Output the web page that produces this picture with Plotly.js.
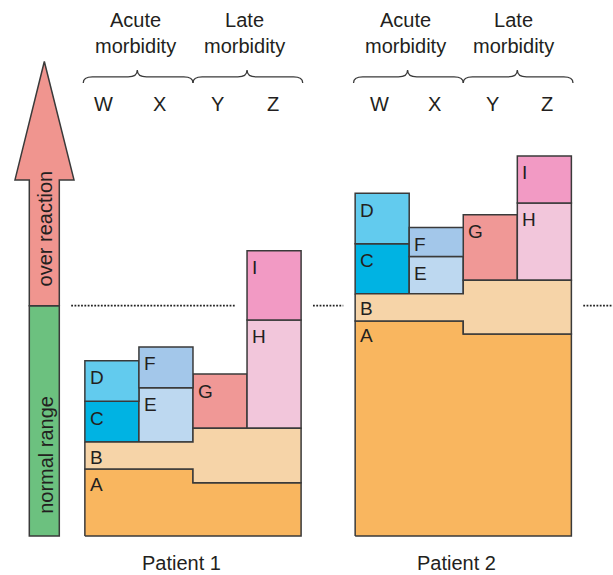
<!DOCTYPE html>
<html>
<head>
<meta charset="utf-8">
<script src="https://cdn.plot.ly/plotly-3.0.1.min.js"></script>
<style>html,body{margin:0;padding:0;background:#fff;}#chart{width:613px;height:575px;}</style>
</head>
<body>
<div id="chart"></div>
<script>
// ---------- data ----------
const columns = ['W', 'X', 'Y', 'Z'];
const groupLabels = ['Acute<br>morbidity', 'Late<br>morbidity'];
const patients = ['Patient 1', 'Patient 2'];
const threshold = 100;           // border between normal range and over reaction

const A_p1 = [29.1, 29.1, 23.1, 23.1];
const B_p1 = [11.7, 11.7, 23.7, 23.7];
const lower_p1 = [17.7, 23.6, 23.5, 47.0];
const upper_p1 = [17.6, 17.7, null, 30.1];

const A_p2 = [93.4, 93.4, 87.7, 87.7];
const B_p2 = [11.8, 11.8, 23.3, 23.3];
const lower_p2 = [21.7, 16.2, 28.5, 33.6];
const upper_p2 = [21.9, 12.5, null, 20.4];

const lowerLetters = ['C', 'E', 'G', 'H'];
const upperLetters = ['D', 'F', null, 'I'];

// ---------- styles ----------
const FONT = '"Liberation Sans", Arial, Helvetica, sans-serif';
const TXT = '#231f20';
const EDGE = '#3a3a3a';
const EW = 1.5;
const colA = '#f9b65f';
const colB = '#f6d4a8';
const lowerColors = ['#00b3e3', '#bdd8f0', '#f09896', '#f2c6db'];
const upperColors = ['#62cbee', '#a3c7ea', null, '#f29ac4'];

const offsets = [0, 5];
const XR = [-2.07, 9.27];
const YR = [-16.9, 232.7];
const H = 575;
const py = px => 1 - px / H;   // pixel row -> paper y

const P = [
  {A: A_p1, B: B_p1, lo: lower_p1, up: upper_p1},
  {A: A_p2, B: B_p2, lo: lower_p2, up: upper_p2}
];

const traces = [];
const annotations = [];
const shapes = [];

// A and B regions as stepped polygons
P.forEach((d, p) => {
  const cx = i => offsets[p] + i;
  // A
  let xs = [cx(0) - 0.5], ys = [0];
  d.A.forEach((v, i) => { xs.push(cx(i) - 0.5, cx(i) + 0.5); ys.push(v, v); });
  xs.push(cx(3) + 0.5, cx(0) - 0.5); ys.push(0, 0);
  traces.push({type: 'scatter', mode: 'lines', x: xs, y: ys, fill: 'toself',
    fillcolor: colA, line: {color: EDGE, width: EW}, hoverinfo: 'skip'});
  // B
  const top = d.A.map((v, i) => v + d.B[i]);
  xs = []; ys = [];
  top.forEach((v, i) => { xs.push(cx(i) - 0.5, cx(i) + 0.5); ys.push(v, v); });
  for (let i = 3; i >= 0; i--) { xs.push(cx(i) + 0.5, cx(i) - 0.5); ys.push(d.A[i], d.A[i]); }
  xs.push(xs[0]); ys.push(ys[0]);
  traces.push({type: 'scatter', mode: 'lines', x: xs, y: ys, fill: 'toself',
    fillcolor: colB, line: {color: EDGE, width: EW}, hoverinfo: 'skip'});
  // labels A, B
  annotations.push({x: cx(0) - 0.5, y: d.A[0], xref: 'x', yref: 'y', text: 'A',
    xanchor: 'left', yanchor: 'middle', xshift: 3, yshift: -15, showarrow: false,
    font: {family: FONT, size: 19, color: TXT}});
  annotations.push({x: cx(0) - 0.5, y: top[0], xref: 'x', yref: 'y', text: 'B',
    xanchor: 'left', yanchor: 'middle', xshift: 3, yshift: -15, showarrow: false,
    font: {family: FONT, size: 19, color: TXT}});
});

// upper boxes as bars
const bx = [], loY = [], loBase = [], loCol = [], upY = [], upBase = [], upCol = [];
P.forEach((d, p) => {
  columns.forEach((c, i) => {
    const base = d.A[i] + d.B[i];
    bx.push(offsets[p] + i);
    loY.push(d.lo[i]); loBase.push(base); loCol.push(lowerColors[i]);
    upY.push(d.up[i]); upBase.push(base + d.lo[i]); upCol.push(upperColors[i] || '#fff');
    annotations.push({x: offsets[p] + i - 0.5, y: base + d.lo[i], xref: 'x', yref: 'y',
      text: lowerLetters[i], xanchor: 'left', yanchor: 'middle', xshift: 3, yshift: -17,
      showarrow: false, font: {family: FONT, size: 19, color: TXT}});
    if (upperLetters[i] && d.up[i] != null) {
      annotations.push({x: offsets[p] + i - 0.5, y: base + d.lo[i] + d.up[i], xref: 'x', yref: 'y',
        text: upperLetters[i], xanchor: 'left', yanchor: 'middle', xshift: 3, yshift: -17,
        showarrow: false, font: {family: FONT, size: 19, color: TXT}});
    }
  });
});
traces.push({type: 'bar', x: bx, y: loY, base: loBase, width: 1,
  marker: {color: loCol, line: {color: EDGE, width: EW}}, hoverinfo: 'skip'});
traces.push({type: 'bar', x: bx, y: upY, base: upBase, width: 1,
  marker: {color: upCol, line: {color: EDGE, width: EW}}, hoverinfo: 'skip'});

// arrow geometry (data coords)
const shaftL = -1.528, shaftR = -0.973, headL = -1.793, headR = -0.701, mid = -1.25;
const headBase = 154.6, tip = 206;

// threshold dotted line, broken around columns that cross it
const gap = 0.22;
const blocked = [[XR[0], shaftR]];
P.forEach((d, p) => {
  columns.forEach((c, i) => {
    const tot = d.A[i] + d.B[i] + (d.lo[i] || 0) + (d.up[i] || 0);
    if (tot > threshold) blocked.push([offsets[p] + i - 0.5, offsets[p] + i + 0.5]);
  });
});
blocked.sort((a, b) => a[0] - b[0]);
const merged = [];
blocked.forEach(b => {
  if (merged.length && b[0] <= merged[merged.length - 1][1] + 1e-9) {
    merged[merged.length - 1][1] = Math.max(merged[merged.length - 1][1], b[1]);
  } else merged.push(b.slice());
});
const dx = [], dy = [];
for (let k = 0; k < merged.length; k++) {
  const s = merged[k][1] + gap;
  const e = k + 1 < merged.length ? merged[k + 1][0] - gap : XR[1];
  if (e > s) { dx.push(s, e, null); dy.push(threshold, threshold, null); }
}
traces.push({type: 'scatter', mode: 'lines', x: dx, y: dy,
  line: {color: '#222', width: 1.7, dash: '1.8px,1.5px'}, hoverinfo: 'skip'});

// arrow shapes
shapes.push({type: 'rect', xref: 'x', yref: 'y', x0: shaftL, x1: shaftR, y0: 0, y1: threshold,
  fillcolor: '#6cc17f', line: {color: EDGE, width: EW}, layer: 'below'});
shapes.push({type: 'path', xref: 'x', yref: 'y',
  path: `M ${shaftL} ${threshold} L ${shaftL} ${headBase} L ${headL} ${headBase} L ${mid} ${tip} L ${headR} ${headBase} L ${shaftR} ${headBase} L ${shaftR} ${threshold} Z`,
  fillcolor: '#f0958f', line: {color: EDGE, width: EW}, layer: 'below'});
annotations.push({x: mid, y: 133.7, xref: 'x', yref: 'y', text: 'over reaction', textangle: -90,
  showarrow: false, font: {family: FONT, size: 20, color: TXT}, xshift: 1});
annotations.push({x: mid, y: 35.4, xref: 'x', yref: 'y', text: 'normal range', textangle: -90,
  showarrow: false, font: {family: FONT, size: 20, color: TXT}, xshift: 1});

// braces, group headers, column letters, patient labels
const yTip = 202.3, yLine = 199.3, yEnd = 196.7, r = 0.17;
function brace(xa, xm, xb) {
  return `M ${xa} ${yEnd} Q ${xa} ${yLine} ${xa + r} ${yLine} L ${xm - r} ${yLine} Q ${xm} ${yLine} ${xm} ${yTip} ` +
         `Q ${xm} ${yLine} ${xm + r} ${yLine} L ${xb - r} ${yLine} Q ${xb} ${yLine} ${xb} ${yEnd}`;
}
const letterShift = [[-8, -6, -2.5, -1.5], [-3, -1.5, 2, 2.5]];
const headerShift = [-3, -4];
const patientShift = [-11, -7];
P.forEach((d, p) => {
  const o = offsets[p];
  shapes.push({type: 'path', xref: 'x', yref: 'y', path: brace(o - 0.53, o + 0.47, o + 1.5),
    line: {color: EDGE, width: 1.3}});
  shapes.push({type: 'path', xref: 'x', yref: 'y', path: brace(o + 1.5, o + 2.5, o + 3.53),
    line: {color: EDGE, width: 1.3}});
  groupLabels.forEach((g, k) => {
    annotations.push({x: o + 0.5 + 2 * k, y: py(33.3), xref: 'x', yref: 'paper', text: g,
      showarrow: false, xshift: headerShift[p], yanchor: 'middle',
      font: {family: FONT, size: 20, color: TXT}});
  });
  columns.forEach((c, i) => {
    annotations.push({x: o + i, y: py(104.2), xref: 'x', yref: 'paper', text: c,
      showarrow: false, xshift: letterShift[p][i], yanchor: 'middle',
      font: {family: FONT, size: 20, color: TXT}});
  });
  annotations.push({x: o + 1.5, y: 0, xref: 'x', yref: 'paper', text: patients[p],
    showarrow: false, xshift: patientShift[p], yanchor: 'bottom', borderpad: 0,
    font: {family: FONT, size: 20, color: TXT}});
});

const layout = {
  width: 613, height: 575,
  margin: {l: 0, r: 0, t: 0, b: 0, pad: 0},
  paper_bgcolor: '#fff', plot_bgcolor: '#fff',
  showlegend: false, barmode: 'overlay', bargap: 0,
  xaxis: {range: XR, visible: false, fixedrange: true},
  yaxis: {range: YR, visible: false, fixedrange: true},
  shapes: shapes, annotations: annotations,
  font: {family: FONT, color: TXT}
};
Plotly.newPlot('chart', traces, layout, {staticPlot: true, displayModeBar: false});
</script>
</body>
</html>
